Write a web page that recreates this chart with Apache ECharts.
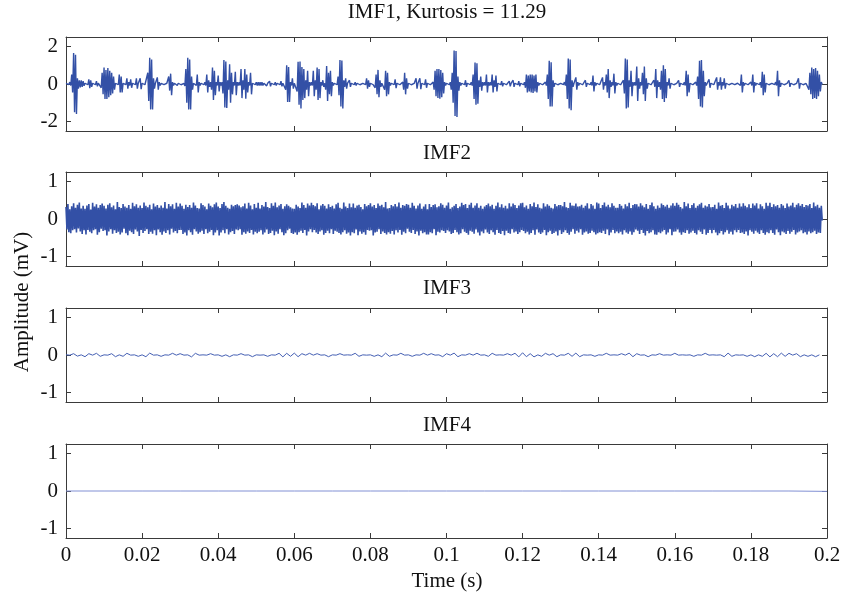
<!DOCTYPE html>
<html><head><meta charset="utf-8">
<script src="https://cdn.jsdelivr.net/npm/echarts@6/dist/echarts.min.js"></script>
<style>html,body{margin:0;padding:0;background:#fff}#c{width:844px;height:605px}</style>
</head><body><div id="c"></div>
<script>
const titles = ['IMF1, Kurtosis = 11.29', 'IMF2', 'IMF3', 'IMF4'];
const xTicks = [0, 0.02, 0.04, 0.06, 0.08, 0.1, 0.12, 0.14, 0.16, 0.18, 0.2];
const yTicks = [[-2, 0, 2], [-1, 0, 1], [-1, 0, 1], [-1, 0, 1]];
const yLimits = [2.5, 1.25, 1.25, 1.25];
const xLabel = 'Time (s)';
const yLabel = 'Amplitude (mV)';
const sampleStep = [0.00025, 0.00025, 0.001, 0.01];

const imf1 = [
.03,-.04,.04,-.03,.1,-.08,.5,-.45,1.65,-1.5,1.55,-1.6,.3,-.25,.2,-.18,.2,-.15,.15,-.1,
.04,-.03,.03,-.04,.25,-.22,.2,-.15,.04,-.03,.03,-.04,.15,-.12,.04,-.03,.03,-.2,.6,-.55,
.88,-.8,.75,-.8,.85,-.7,.7,-.6,.6,-.5,.4,-.3,.04,-.03,.03,-.04,.5,-.45,.4,-.45,
.03,-.04,.04,-.03,.3,-.25,.1,-.08,.25,-.2,.04,-.03,.03,-.04,.3,-.25,.04,-.03,.3,-.28,
.04,-.03,.03,-.04,.04,-.1,.6,-.9,1.4,-1.35,1.3,-1.35,.3,-.25,.04,-.03,.35,-.3,.1,-.08,
.03,-.04,.04,-.03,.03,-.04,.04,-.03,.4,-.35,.55,-.6,.1,-.08,.04,-.03,.1,-.08,.04,-.03,
.03,-.04,.04,-.03,.03,-.1,.8,-1.0,1.4,-1.35,1.3,-1.35,.4,-.3,.04,-.03,.1,-.08,.5,-.45,
.1,-.08,.04,-.03,.03,-.04,.1,-.08,.5,-.45,.2,-.15,.1,-.3,.88,-.85,.7,-.6,.1,-.08,
.45,-.4,.1,-.08,.1,-.5,1.28,-1.25,1.2,-1.28,.2,-.3,1.05,-1.0,.6,-.55,.1,-.08,.65,-.6,
.1,-.08,.1,-.08,.8,-.75,.2,-.3,.8,-.78,.5,-.45,.1,-.08,.6,-.55,.04,-.03,.03,-.04,
.1,-.08,.1,-.08,.1,-.08,.1,-.08,.04,-.03,.12,-.1,.04,-.03,.15,-.12,.04,-.03,.03,-.04,
.1,-.08,.04,-.03,.03,-.04,.15,-.12,.04,-.03,.1,-.3,1.0,-.95,.9,-.95,.1,-.08,.3,-.25,
.04,-.03,.1,-.4,1.18,-1.1,1.2,-1.3,.9,-.85,.8,-.75,.2,-.3,.7,-.65,.1,-.08,.1,-.08,
.7,-.65,.2,-.3,.88,-.85,.8,-.75,.1,-.08,.2,-.15,.04,-.3,.95,-.9,.6,-.55,.7,-.65,
.1,-.08,.04,-.03,.03,-.04,.4,-.6,1.28,-1.2,1.25,-1.3,.2,-.15,.3,-.25,.04,-.03,.2,-.15,
.04,-.03,.03,-.04,.1,-.08,.04,-.03,.03,-.04,.04,-.03,.03,-.04,.04,-.03,.3,-.25,.2,-.15,
.04,-.03,.03,-.04,.04,-.2,.5,-.55,.75,-.7,.2,-.15,.04,-.03,.1,-.3,.7,-.65,.6,-.55,
.1,-.08,.04,-.03,.03,-.04,.25,-.22,.04,-.03,.03,-.04,.04,-.03,.1,-.3,.6,-.55,.3,-.25,
.04,-.03,.03,-.04,.04,-.03,.03,-.04,.3,-.25,.04,-.03,.3,-.28,.04,-.03,.03,-.04,.25,-.2,
.04,-.03,.03,-.04,.04,-.03,.1,-.3,.7,-.65,.8,-.75,.8,-.78,.75,-.7,.6,-.5,.1,-.08,
.04,-.03,.03,-.04,.1,-.3,.6,-1.0,1.78,-1.7,1.75,-1.75,.4,-.35,.1,-.08,.04,-.03,.03,-.04,
.2,-.15,.04,-.03,.03,-.04,.1,-.08,.5,-.8,1.14,-1.1,1.1,-1.05,.2,-.15,.4,-.35,.1,-.08,
.1,-.08,.5,-.45,.1,-.08,.1,-.08,.5,-.45,.2,-.15,.45,-.4,.04,-.03,.03,-.04,.15,-.12,
.04,-.03,.03,-.04,.04,-.03,.15,-.12,.04,-.03,.2,-.15,.04,-.03,.03,-.04,.15,-.12,.04,-.03,
.03,-.04,.1,-.2,.5,-.45,.45,-.4,.5,-.45,.5,-.48,.45,-.4,.5,-.45,.1,-.08,.04,-.03,
.03,-.04,.04,-.03,.1,-.08,.5,-.8,1.23,-1.2,1.15,-1.2,.2,-.15,.04,-.03,.03,-.04,.04,-.03,
.03,-.04,.04,-.03,.1,-.08,.5,-.8,1.35,-1.3,1.3,-1.4,.2,-.15,.04,-.03,.35,-.3,.1,-.08,
.04,-.03,.03,-.04,.04,-.03,.2,-.15,.04,-.03,.03,-.04,.1,-.08,.45,-.4,.1,-.08,.04,-.03,
.03,-.04,.04,-.03,.35,-.3,.1,-.08,.5,-.45,.8,-.75,.2,-.15,.1,-.08,.55,-.5,.1,-.08,
.04,-.03,.03,-.04,.04,-.03,.2,-.5,1.35,-1.3,1.3,-1.25,.2,-.15,.7,-.65,.1,-.08,.1,-.08,
.93,-.9,.3,-.25,.1,-.08,.6,-.55,.93,-.9,.3,-.25,.04,-.03,.03,-.04,.04,-.03,.2,-.15,
.8,-.75,.2,-.15,.1,-.3,.7,-.8,1.0,-.95,.8,-.75,.1,-.08,.3,-.25,.04,-.03,.03,-.04,
.04,-.03,.03,-.04,.2,-.15,.04,-.03,.03,-.04,.1,-.08,.7,-.65,.5,-.45,.04,-.03,.03,-.04,
.04,-.03,.1,-.08,.4,-.8,1.23,-1.2,1.28,-1.25,.7,-.65,.1,-.08,.04,-.03,.25,-.2,.04,-.03,
.03,-.04,.04,-.03,.35,-.3,.1,-.08,.35,-.3,.1,-.08,.3,-.25,.04,-.03,.03,-.04,.04,-.03,
.03,-.04,.04,-.03,.03,-.04,.04,-.03,.1,-.08,.5,-.45,.1,-.08,.04,-.03,.03,-.04,.04,-.03,
.1,-.08,.5,-.45,.1,-.08,.04,-.03,.03,-.04,.1,-.2,.65,-.6,.5,-.45,.04,-.03,.03,-.04,
.04,-.03,.03,-.04,.04,-.03,.1,-.08,.7,-.65,.2,-.15,.04,-.03,.03,-.04,.04,-.03,.03,-.04,
.2,-.15,.04,-.03,.03,-.04,.04,-.03,.03,-.04,.3,-.25,.04,-.03,.03,-.04,.04,-.03,.03,-.04,
.1,-.3,.6,-.55,.88,-.8,.8,-.75,.85,-.8,.7,-.65,.5,-.4,.1,-.03
];

const imf2 = [
.32,-.28,.4,-.35,.26,-.38,.34,-.3,.42,-.27,.3,-.36,.38,-.25,.44,-.33,.28,-.4,.35,-.3,
.27,-.41,.36,-.29,.4,-.34,.25,-.38,.43,-.3,.33,-.27,.39,-.42,.3,-.35,.37,-.26,.41,-.32,
.35,-.3,.28,-.44,.38,-.33,.42,-.27,.31,-.39,.36,-.3,.26,-.37,.45,-.34,.32,-.41,.29,-.36,
.4,-.26,.33,-.38,.3,-.43,.37,-.31,.27,-.35,.43,-.4,.34,-.28,.39,-.33,.3,-.45,.36,-.29,
.29,-.37,.44,-.32,.35,-.27,.31,-.4,.38,-.34,.26,-.39,.41,-.3,.33,-.43,.37,-.28,.3,-.35,
.36,-.42,.3,-.33,.45,-.37,.28,-.3,.4,-.41,.34,-.26,.39,-.36,.27,-.32,.43,-.38,.33,-.29,
.41,-.29,.35,-.4,.27,-.36,.38,-.44,.32,-.3,.37,-.35,.3,-.42,.44,-.27,.36,-.33,.29,-.39,
.28,-.35,.42,-.31,.37,-.4,.33,-.27,.26,-.38,.41,-.34,.35,-.29,.31,-.43,.39,-.36,.44,-.3,
.33,-.44,.29,-.36,.4,-.3,.45,-.38,.35,-.27,.3,-.41,.27,-.35,.38,-.32,.34,-.4,.37,-.28,
.39,-.3,.36,-.27,.31,-.42,.34,-.35,.41,-.39,.28,-.33,.43,-.37,.36,-.29,.26,-.41,.4,-.34,
.3,-.38,.43,-.34,.28,-.3,.37,-.41,.33,-.36,.45,-.28,.32,-.4,.29,-.37,.42,-.31,.35,-.43,
.44,-.33,.31,-.39,.36,-.27,.4,-.35,.27,-.43,.34,-.38,.39,-.3,.35,-.26,.31,-.37,.28,-.4,
.27,-.36,.38,-.42,.33,-.35,.29,-.31,.44,-.37,.37,-.29,.3,-.44,.41,-.33,.36,-.27,.43,-.35,
.37,-.29,.34,-.36,.42,-.4,.26,-.33,.36,-.3,.4,-.42,.35,-.37,.28,-.31,.39,-.38,.32,-.27,
.35,-.4,.28,-.31,.39,-.34,.43,-.37,.3,-.41,.27,-.35,.44,-.3,.33,-.39,.29,-.36,.41,-.44,
.31,-.35,.41,-.38,.3,-.28,.36,-.43,.38,-.33,.32,-.39,.26,-.35,.4,-.42,.34,-.29,.37,-.31,
.42,-.3,.33,-.44,.37,-.36,.29,-.34,.41,-.27,.35,-.4,.38,-.33,.31,-.37,.45,-.41,.28,-.35,
.29,-.39,.37,-.32,.34,-.41,.4,-.3,.33,-.36,.44,-.29,.3,-.42,.37,-.34,.35,-.38,.4,-.26,
.38,-.34,.3,-.37,.43,-.29,.35,-.4,.28,-.33,.36,-.44,.41,-.31,.27,-.38,.33,-.35,.39,-.41,
.26,-.41,.4,-.35,.32,-.38,.37,-.27,.39,-.43,.31,-.34,.34,-.36,.42,-.3,.38,-.32,.3,-.37,
.36,-.3,.44,-.33,.27,-.4,.31,-.37,.35,-.29,.4,-.35,.29,-.41,.33,-.38,.43,-.27,.37,-.34,
.4,-.37,.29,-.42,.38,-.31,.43,-.34,.3,-.39,.36,-.28,.42,-.36,.3,-.44,.35,-.33,.27,-.38,
.33,-.28,.37,-.36,.41,-.4,.34,-.3,.38,-.35,.27,-.42,.35,-.29,.44,-.37,.31,-.4,.39,-.32,
.3,-.43,.35,-.31,.28,-.37,.42,-.39,.33,-.27,.41,-.36,.37,-.33,.29,-.4,.36,-.35,.42,-.29,
.43,-.32,.31,-.38,.36,-.34,.27,-.41,.4,-.37,.34,-.3,.44,-.42,.32,-.28,.39,-.36,.3,-.4,
.28,-.36,.42,-.29,.33,-.43,.39,-.35,.35,-.31,.3,-.4,.28,-.37,.4,-.33,.34,-.44,.37,-.3,
.37,-.4,.34,-.35,.45,-.3,.31,-.37,.29,-.42,.43,-.34,.36,-.27,.35,-.39,.41,-.31,.33,-.36,
.34,-.27,.38,-.42,.3,-.36,.35,-.33,.42,-.39,.28,-.37,.4,-.31,.36,-.35,.27,-.41,.44,-.38,
.41,-.35,.29,-.37,.37,-.31,.44,-.4,.33,-.28,.38,-.43,.31,-.36,.42,-.29,.35,-.38,.3,-.33,
.3,-.38,.4,-.34,.35,-.41,.28,-.3,.39,-.36,.34,-.39,.43,-.33,.29,-.42,.37,-.35,.4,-.28,
.39,-.31,.33,-.4,.42,-.29,.36,-.37,.31,-.44,.4,-.32,.27,-.38,.37,-.35,.44,-.3,.34,-.41,
.27,-.42,.36,-.35,.3,-.38,.41,-.33,.37,-.29,.33,-.41,.38,-.36,.3,-.27,.36,-.43,.42,-.34,
.35,-.33,.43,-.28,.38,-.36,.32,-.42,.28,-.35,.45,-.37,.34,-.3,.41,-.39,.29,-.36,.37,-.31,
.42,-.37,.3,-.41,.35,-.3,.39,-.34,.43,-.4,.3,-.28,.36,-.42,.33,-.37,.4,-.29,.31,-.38,
.32,-.29,.38,-.36,.27,-.43,.44,-.38,.35,-.32,.37,-.41,.29,-.35,.43,-.3,.36,-.39,.28,-.34,
.38,-.41,.34,-.3,.4,-.35,.3,-.29,.41,-.37,.33,-.36,.42,-.4,.35,-.33,.31,-.44,.39,-.3,
.29,-.34,.41,-.39,.36,-.31,.42,-.36,.28,-.4,.39,-.3,.34,-.37,.27,-.42,.43,-.35,.35,-.38,
.43,-.3,.32,-.37,.39,-.42,.34,-.28,.37,-.35,.3,-.43,.4,-.33,.36,-.36,.29,-.4,.41,-.32,
.33,-.39,.36,-.34,.43,-.29,.31,-.41,.38,-.36,.42,-.33,.35,-.3,.4,-.38,.32,-.35,.37,-.41,
.36,-.33,.4,-.38,.29,-.35,.44,-.31,.34,-.4,.38,-.36,.3,-.37,.35,-.04
];

const imf3 = [
.005,-.004,.035,-.03,.004,-.045,.035,-.004,.045,-.035,.004,-.004,.035,-.045,.004,-.035,.045,-.004,.004,-.035,
.004,-.045,.05,-.004,.004,-.035,.004,-.004,.045,-.004,.035,-.004,.004,-.05,.045,-.004,.004,-.004,.035,-.004,
.004,-.035,.004,-.045,.004,-.004,.035,-.004,.004,-.045,.004,-.004,.004,-.035,.004,-.004,.045,-.05,.045,-.035,
.05,-.045,.035,-.004,.045,-.004,.035,-.004,.004,-.045,.004,-.004,.035,-.004,.004,-.004,.045,-.035,.004,-.004,
.004,-.035,.004,-.045,.05,-.035,.004,-.004,.045,-.004,.004,-.035,.004,-.004,.045,-.004,.035,-.004,.004,-.045,
.035,-.004,.05,-.045,.004,-.004,.035,-.004,.045,-.004,.004,-.035,.045,-.004,.004,-.004,.035,-.004,.045,-.05,
.06,-.045,.035,-.05,.004,-.035,.045,-.004,.035,-.045,.004,-.004,.045,-.035,.05,-.045,.004,-.004,.004,-.035,
.004,-.004,.045,-.004,.004,-.004,.035,-.004,.05,-.045,.035,-.004,.004,-.045,.004,-.004,.035,-.004,.004,-.004,
.045,-.004,.004,-.004,.004,-.035,.004,-.004,.045,-.004,.004,-.004,.004,-.045,.05,-.035,.004,-.004,.004,-.035,
.004,-.045,.004,-.035,.045,-.05,.035,-.045,.05,-.035,.045,-.004,.035,-.045,.004,-.035,.004,-.045,.004
];

const imf4 = [0,0,0,0,0,0,0,0,0,0,0,0,0,0,0,0,0,0,0,0,-0.01];

const signals = [imf1, imf2, imf3, imf4];
const lineColors = ['#3350a6', '#3350a6', '#4560b4', '#8190d4'];
const lineWidths = [1.4, 1.6, 1, 1];

const FONT = 'Liberation Serif';
const FS = 21;
const gridTops = [37, 172, 308, 444];
const titleCenters = [14, 155, 290, 427];
const gridH = 94;

const grids = [], xAxes = [], yAxes = [], series = [], titleArr = [];
for (let k = 0; k < 4; k++) {
  grids.push({ left: 66, right: 17, top: gridTops[k], height: gridH });
  const axLine = { show: true, onZero: false, lineStyle: { color: '#3a3a3a', width: 1 } };
  const tick = { show: true, inside: true, length: 5, lineStyle: { color: '#3a3a3a' } };
  xAxes.push({
    type: 'value', gridIndex: k, min: 0, max: 0.2, interval: 0.02, position: 'bottom',
    axisLine: axLine, axisTick: tick, splitLine: { show: false },
    axisLabel: { show: k === 3, margin: 7, color: '#111', fontFamily: FONT, fontSize: FS,
      customValues: xTicks, formatter: v => String(+v.toFixed(2)) }
  });
  xAxes.push({
    type: 'value', gridIndex: k, min: 0, max: 0.2, interval: 0.02, position: 'top',
    axisLine: axLine, axisTick: tick, splitLine: { show: false }, axisLabel: { show: false }
  });
  yAxes.push({
    type: 'value', gridIndex: k, min: -yLimits[k], max: yLimits[k], position: 'left',
    axisLine: axLine, splitLine: { show: false },
    axisTick: Object.assign({ customValues: yTicks[k] }, tick),
    axisLabel: { customValues: yTicks[k], margin: 8, color: '#111', fontFamily: FONT, fontSize: FS,
      formatter: v => String(v) }
  });
  yAxes.push({
    type: 'value', gridIndex: k, min: -yLimits[k], max: yLimits[k], position: 'right',
    axisLine: axLine, splitLine: { show: false },
    axisTick: Object.assign({ customValues: yTicks[k] }, tick),
    axisLabel: { show: false }
  });
  const dt = sampleStep[k];
  series.push({
    type: 'line', xAxisIndex: 2 * k, yAxisIndex: 2 * k,
    data: signals[k].map((v, i) => [+(i * dt).toFixed(6), v]),
    showSymbol: false, symbol: 'none', sampling: 'none', silent: true,
    lineStyle: { color: lineColors[k], width: lineWidths[k] },
    clip: true
  });
  titleArr.push({
    text: titles[k], left: 447, top: titleCenters[k] - 12, textAlign: 'center', padding: 0,
    textStyle: { fontFamily: FONT, fontSize: FS, fontWeight: 'normal', color: '#111' }
  });
}

const chart = echarts.init(document.getElementById('c'), null, { renderer: 'canvas' });
chart.setOption({
  animation: false,
  backgroundColor: '#fff',
  title: titleArr,
  grid: grids, xAxis: xAxes, yAxis: yAxes, series: series,
  graphic: [
    { type: 'text', x: 22, y: 302, rotation: Math.PI / 2,
      style: { text: yLabel, font: FS + 'px "Liberation Serif"', fill: '#111', align: 'center', verticalAlign: 'middle' } },
    { type: 'text', x: 447, y: 581,
      style: { text: xLabel, font: FS + 'px "Liberation Serif"', fill: '#111', align: 'center', verticalAlign: 'middle' } }
  ]
});
</script></body></html>
